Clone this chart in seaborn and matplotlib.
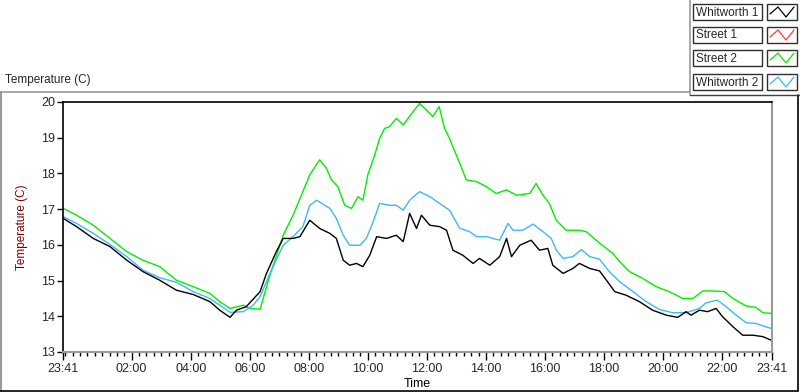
import numpy as np
import pandas as pd
import matplotlib
matplotlib.use("Agg")
import matplotlib.pyplot as plt
from matplotlib.lines import Line2D
from matplotlib.patches import Rectangle
import seaborn as sns

# minutes after 23:41 (chart runs 24 h), temperature in C
w1_min = [0, 27, 61, 95, 129, 162, 196, 230, 264, 298, 318, 339, 352, 372, 400, 413, 433, 447,
          467, 481, 501, 521, 542, 555, 569, 582, 596, 609, 623, 637, 657, 677, 691, 704, 718,
          728, 745, 765, 779, 792, 812, 833, 846, 867, 887, 901, 911, 928, 951, 968, 985, 995,
          1016, 1036, 1049, 1070, 1090, 1104, 1121, 1144, 1171, 1198, 1226, 1249, 1266, 1276,
          1293, 1310, 1327, 1340, 1361, 1381, 1402, 1422, 1439]
w1_temp = [16.74, 16.51, 16.18, 15.95, 15.57, 15.25, 15.01, 14.73, 14.61, 14.41, 14.17, 13.97,
           14.17, 14.27, 14.69, 15.20, 15.81, 16.18, 16.18, 16.23, 16.69, 16.46, 16.32, 16.18,
           15.57, 15.43, 15.48, 15.39, 15.71, 16.23, 16.18, 16.27, 16.09, 16.88, 16.46, 16.83,
           16.55, 16.51, 16.41, 15.85, 15.71, 15.48, 15.62, 15.43, 15.67, 16.18, 15.67, 15.99,
           16.13, 15.85, 15.90, 15.43, 15.20, 15.34, 15.48, 15.34, 15.27, 15.01, 14.69, 14.59,
           14.41, 14.17, 14.03, 13.97, 14.13, 14.03, 14.17, 14.13, 14.22, 13.99, 13.71, 13.47,
           13.47, 13.43, 13.33]

s1_min = []
s1_temp = []

s2_min = [0, 27, 61, 95, 129, 162, 196, 230, 264, 298, 318, 339, 366, 379, 400, 420, 447, 467,
          487, 501, 521, 535, 545, 558, 572, 586, 599, 609, 619, 633, 643, 653, 663, 677, 691,
          711, 724, 738, 751, 764, 775, 785, 796, 806, 819, 840, 860, 880, 901, 921, 948, 961,
          975, 988, 1002, 1022, 1049, 1063, 1083, 1104, 1117, 1131, 1151, 1178, 1205, 1232,
          1259, 1280, 1300, 1320, 1344, 1361, 1388, 1408, 1422, 1439]
s2_temp = [17.02, 16.83, 16.55, 16.18, 15.81, 15.57, 15.39, 15.01, 14.83, 14.64, 14.41, 14.22,
           14.31, 14.22, 14.20, 15.15, 16.27, 16.83, 17.49, 17.96, 18.38, 18.14, 17.82, 17.63,
           17.11, 17.02, 17.35, 17.25, 17.96, 18.52, 18.98, 19.26, 19.31, 19.54, 19.36, 19.73,
           19.96, 19.78, 19.59, 19.87, 19.26, 18.98, 18.61, 18.28, 17.82, 17.77, 17.63, 17.44,
           17.54, 17.39, 17.44, 17.72, 17.39, 17.16, 16.69, 16.41, 16.41, 16.37, 16.13, 15.90,
           15.76, 15.53, 15.25, 15.06, 14.83, 14.69, 14.50, 14.50, 14.71, 14.71, 14.69, 14.50,
           14.29, 14.25, 14.10, 14.08]

w2_min = [0, 27, 61, 95, 129, 162, 196, 230, 264, 298, 318, 339, 366, 386, 400, 420, 447, 467,
          487, 501, 515, 542, 555, 569, 582, 603, 616, 630, 643, 663, 677, 691, 704, 724, 745,
          765, 785, 806, 826, 840, 860, 887, 904, 914, 934, 955, 975, 992, 1002, 1016, 1036,
          1053, 1070, 1090, 1110, 1131, 1158, 1185, 1212, 1239, 1266, 1293, 1307, 1330, 1347,
          1368, 1388, 1408, 1422, 1439]
w2_temp = [16.79, 16.60, 16.32, 16.01, 15.67, 15.29, 15.08, 14.95, 14.69, 14.50, 14.31, 14.11,
           14.13, 14.31, 14.55, 15.20, 15.99, 16.23, 16.51, 17.11, 17.25, 17.02, 16.74, 16.27,
           15.99, 15.99, 16.18, 16.65, 17.16, 17.11, 17.11, 16.97, 17.25, 17.49, 17.35, 17.16,
           16.97, 16.46, 16.37, 16.23, 16.23, 16.13, 16.60, 16.41, 16.41, 16.58, 16.37, 16.18,
           15.85, 15.62, 15.67, 15.87, 15.67, 15.60, 15.25, 14.97, 14.69, 14.41, 14.19, 14.10,
           14.10, 14.22, 14.38, 14.45, 14.27, 14.03, 13.82, 13.80, 13.73, 13.66]

names = ["Whitworth 1", "Street 1", "Street 2", "Whitworth 2"]
colors = ["#000000", "#ff3a3a", "#00f000", "#3db8f8"]
tick_labels = ["23:41", "02:00", "04:00", "06:00", "08:00", "10:00", "12:00", "14:00",
               "16:00", "18:00", "20:00", "22:00", "23:41"]

series = [(w1_min, w1_temp), (s1_min, s1_temp), (s2_min, s2_temp), (w2_min, w2_temp)]
frames = []
for name, (m, t) in zip(names, series):
    frames.append(pd.DataFrame({"minute": m, "temp": t, "sensor": name}))
df = pd.concat(frames, ignore_index=True)

sns.set_style("white")
plt.rcParams["font.family"] = ["Liberation Sans", "DejaVu Sans"]
plt.rcParams["font.size"] = 8.5

W, H = 800, 392
fig = plt.figure(figsize=(W / 100, H / 100), dpi=100)


def fx(px):
    return px / W


def fy(py):
    return 1 - py / H


ax = fig.add_axes([fx(63.3), fy(352), fx(771.7) - fx(63.3), fy(102) - fy(352)])
pal = dict(zip(names, colors))
for name in [names[2], names[3], names[0]]:
    sns.lineplot(data=df[df.sensor == name], x="minute", y="temp", color=pal[name],
                 lw=1.0, ax=ax, legend=False, estimator=None, sort=False)

ax.set_xlim(0, 1440)
ax.set_ylim(13, 20)

# major ticks at clock hours, minor every 15 min
start = 23 * 60 + 41
major = [0] + [(h * 60 - start) % 1440 for h in range(2, 24, 2)] + [1440]
ax.set_xticks(major)
ax.set_xticklabels(tick_labels)
minor = [m for m in range(4, 1441, 15)]
ax.set_xticks(minor, minor=True)
ax.set_yticks(range(13, 21))

ax.tick_params(axis="x", which="major", length=6, width=1, color="black", pad=2,
               labelsize=9, bottom=True)
ax.tick_params(axis="x", which="minor", length=3, width=1, color="black", bottom=True)
ax.tick_params(axis="y", which="major", length=4, width=1, color="black", pad=2,
               labelsize=9, left=True)

for side in ["left", "top"]:
    ax.spines[side].set_color("black")
    ax.spines[side].set_linewidth(1.2)
for side in ["right", "bottom"]:
    ax.spines[side].set_color("#9a9a9a")
    ax.spines[side].set_linewidth(1.5)

ax.set_xlabel("Time", fontsize=9, color="black")
ax.xaxis.set_label_coords(0.5, -0.105)
ax.set_ylabel("Temperature (C)", fontsize=8.5, color="#800000")
ax.yaxis.set_label_coords(-0.05, 0.5)

# panel title and frame
fig.text(fx(5), fy(80), "Temperature (C)", fontsize=8.5, va="center", ha="left")
gray = "#9a9a9a"
fig.add_artist(Line2D([fx(0), fx(690)], [fy(92), fy(92)], color=gray, lw=1.2))
fig.add_artist(Line2D([fx(1), fx(1)], [fy(92), fy(391)], color=gray, lw=1.5))
fig.add_artist(Line2D([fx(0), fx(798)], [fy(390.5), fy(390.5)], color="black", lw=1.2))
fig.add_artist(Line2D([fx(797.5), fx(797.5)], [fy(95), fy(391)], color="black", lw=1.2))
fig.add_artist(Line2D([fx(690), fx(690)], [fy(0), fy(95)], color=gray, lw=1.2))
fig.add_artist(Line2D([fx(690), fx(800)], [fy(95), fy(95)], color="#404040", lw=1.0))

# legend boxes in the top-right corner
row_tops = [4, 27, 50, 74]
for name, col, top in zip(names, colors, row_tops):
    fig.add_artist(Rectangle((fx(693), fy(top + 16)), fx(762) - fx(693), fy(top) - fy(top + 16),
                             facecolor="white", edgecolor="#303030", lw=1.0))
    fig.add_artist(Rectangle((fx(767), fy(top + 16)), fx(797) - fx(767), fy(top) - fy(top + 16),
                             facecolor="white", edgecolor="#303030", lw=1.0))
    fig.text(fx(696), fy(top + 8.5), name, fontsize=8.5, va="center", ha="left")
    zx = [770, 778, 786, 794]
    zy = [top + 10, top + 3, top + 13, top + 3]
    fig.add_artist(Line2D([fx(v) for v in zx], [fy(v) for v in zy], color=col, lw=0.9))

fig.savefig("out.png", dpi=100)
